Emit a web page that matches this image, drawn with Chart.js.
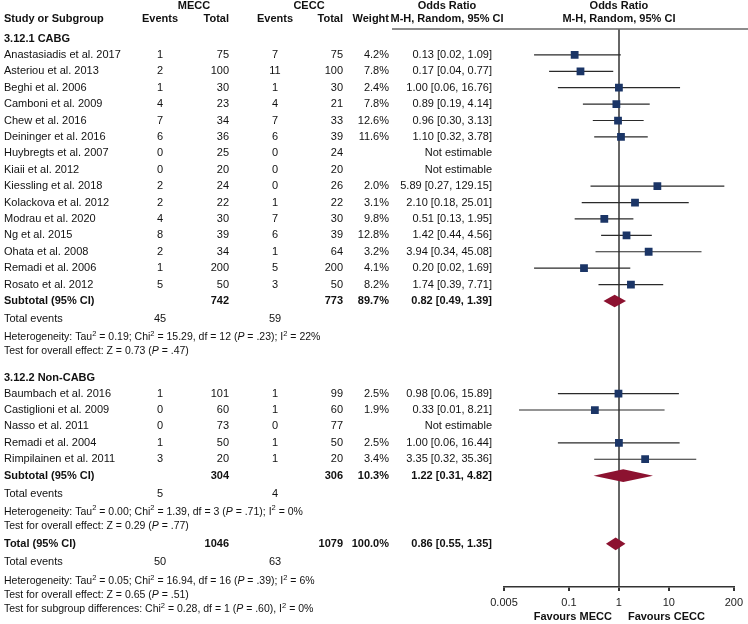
<!DOCTYPE html>
<html><head><meta charset="utf-8">
<script src="https://cdn.jsdelivr.net/npm/chart.js@4/dist/chart.umd.min.js"></script>
<style>html,body{margin:0;padding:0;background:#fff}canvas{display:block}</style>
</head><body>
<canvas id="c" width="748" height="624"></canvas>
<script>
// ---------- DATA ----------
const studies = ["Anastasiadis et al. 2017","Asteriou et al. 2013","Beghi et al. 2006","Camboni et al. 2009","Chew et al. 2016","Deininger et al. 2016","Huybregts et al. 2007","Kiaii et al. 2012","Kiessling et al. 2018","Kolackova et al. 2012","Modrau et al. 2020","Ng et al. 2015","Ohata et al. 2008","Remadi et al. 2006","Rosato et al. 2012",
  "Baumbach et al. 2016","Castiglioni et al. 2009","Nasso et al. 2011","Remadi et al. 2004","Rimpilainen et al. 2011"];
const subgroup = [0,0,0,0,0,0,0,0,0,0,0,0,0,0,0, 1,1,1,1,1];
const meccEvents = [1,2,1,4,7,6,0,0,2,2,4,8,2,1,5, 1,0,0,1,3];
const meccTotal  = [75,100,30,23,34,36,25,20,24,22,30,39,34,200,50, 101,60,73,50,20];
const ceccEvents = [7,11,1,4,7,6,0,0,0,1,7,6,1,5,3, 1,1,0,1,1];
const ceccTotal  = [75,100,30,21,33,39,24,20,26,22,30,39,64,200,50, 99,60,77,50,20];
const weights    = [4.2,7.8,2.4,7.8,12.6,11.6,null,null,2.0,3.1,9.8,12.8,3.2,4.1,8.2, 2.5,1.9,null,2.5,3.4];
const oddsRatio  = [0.13,0.17,1.00,0.89,0.96,1.10,null,null,5.89,2.10,0.51,1.42,3.94,0.20,1.74, 0.98,0.33,null,1.00,3.35];
const ciLow      = [0.02,0.04,0.06,0.19,0.30,0.32,null,null,0.27,0.18,0.13,0.44,0.34,0.02,0.39, 0.06,0.01,null,0.06,0.32];
const ciHigh     = [1.09,0.77,16.76,4.14,3.13,3.78,null,null,129.15,25.01,1.95,4.56,45.08,1.69,7.71, 15.89,8.21,null,16.44,35.36];

const groupNames   = ["3.12.1 CABG","3.12.2 Non-CABG"];
const groupMeccTot = [742,304];
const groupCeccTot = [773,306];
const groupWeight  = ["89.7%","10.3%"];
const groupOR      = [0.82,1.22];
const groupLow     = [0.49,0.31];
const groupHigh    = [1.39,4.82];
const groupMeccEv  = [45,5];
const groupCeccEv  = [59,4];
const groupNotes   = [
  ["Heterogeneity: Tau^2^ = 0.19; Chi^2^ = 15.29, df = 12 (_P_ = .23); I^2^ = 22%","Test for overall effect: Z = 0.73 (_P_ = .47)"],
  ["Heterogeneity: Tau^2^ = 0.00; Chi^2^ = 1.39, df = 3 (_P_ = .71); I^2^ = 0%","Test for overall effect: Z = 0.29 (_P_ = .77)"]
];
const totalMeccTot = 1046, totalCeccTot = 1079, totalWeight = "100.0%";
const totalOR = 0.86, totalLow = 0.55, totalHigh = 1.35;
const totalMeccEv = 50, totalCeccEv = 63;
const totalNotes = [
  "Heterogeneity: Tau^2^ = 0.05; Chi^2^ = 16.94, df = 16 (_P_ = .39); I^2^ = 6%",
  "Test for overall effect: Z = 0.65 (_P_ = .51)",
  "Test for subgroup differences: Chi^2^ = 0.28, df = 1 (_P_ = .60), I^2^ = 0%"
];
const tickValues = [0.005, 0.1, 1, 10, 200];
const tickLabels = ["0.005","0.1","1","10","200"];

// ---------- LAYOUT (row units) ----------
const rows = [];
(function(){
  let r = -0.97;
  for (let g = 0; g < 2; g++) {
    rows.push({kind:'group', row:r, g});
    r += 0.97;
    for (let i = 0; i < studies.length; i++) {
      if (subgroup[i] !== g) continue;
      rows.push({kind:'study', row:r, i});
      r += 1;
    }
    rows.push({kind:'subtotal', row:r, g}); r += 1.1;
    rows.push({kind:'events', row:r, m:groupMeccEv[g], c:groupCeccEv[g]}); r += 1.1;
    rows.push({kind:'note', row:r, text:groupNotes[g][0]}); r += 0.86;
    rows.push({kind:'note', row:r, text:groupNotes[g][1]});
    r += (g === 0) ? 1.62 : 1.1;
  }
  rows.push({kind:'total', row:r}); r += 1.1;
  rows.push({kind:'events', row:r, m:totalMeccEv, c:totalCeccEv}); r += 1.18;
  for (const t of totalNotes) { rows.push({kind:'note', row:r, text:t}); r += 0.86; }
})();
const studyRow = {};
rows.forEach(o => { if (o.kind==='study') studyRow[o.i] = o.row; });
const subRow = rows.filter(o=>o.kind==='subtotal').map(o=>o.row);
const totRow = rows.find(o=>o.kind==='total').row;

// ---------- DATASETS ----------
const squareData = [];
const ciSets = [];
studies.forEach((s,i) => {
  if (oddsRatio[i] == null) return;
  squareData.push({x: oddsRatio[i], y: studyRow[i]});
  ciSets.push({
    type:'line', data:[{x:ciLow[i], y:studyRow[i]},{x:ciHigh[i], y:studyRow[i]}],
    borderColor:'#2a2a2a', borderWidth:1.2, pointRadius:0, showLine:true, fill:false
  });
});
const diamonds = [
  {or:groupOR[0], lo:groupLow[0], hi:groupHigh[0], row:subRow[0]},
  {or:groupOR[1], lo:groupLow[1], hi:groupHigh[1], row:subRow[1]},
  {or:totalOR, lo:totalLow, hi:totalHigh, row:totRow}
];

// ---------- TEXT HELPERS ----------
const FONT = '"Liberation Sans", Arial, Helvetica, sans-serif';
const FS = 11;
function f(sz, bold, it){ return (it?'italic ':'') + (bold?'bold ':'') + sz + 'px ' + FONT; }
function txt(ctx, s, x, y, align, bold, sz){
  ctx.font = f(sz||FS, bold); ctx.textAlign = align||'left'; ctx.textBaseline = 'middle';
  ctx.fillStyle = '#111'; ctx.fillText(s, x, y);
}
function rich(ctx, s, x, y, sz){
  const parts = s.split(/(\^[^^]*\^|_[^_]*_)/).filter(p=>p.length);
  ctx.textAlign = 'left'; ctx.textBaseline = 'middle'; ctx.fillStyle = '#111';
  let cx = x;
  for (const p of parts) {
    if (p[0]==='^') { const t=p.slice(1,-1); ctx.font=f(sz*0.72,false); ctx.fillText(t,cx,y-3.5); cx+=ctx.measureText(t).width; }
    else if (p[0]==='_') { const t=p.slice(1,-1); ctx.font=f(sz,false,true); ctx.fillText(t,cx,y); cx+=ctx.measureText(t).width; }
    else { ctx.font=f(sz,false); ctx.fillText(p,cx,y); cx+=ctx.measureText(p).width; }
  }
}
const fmtOR = (o,l,h) => o.toFixed(2)+' ['+l.toFixed(2)+', '+h.toFixed(2)+']';

const COL = {name:4, mEv:160, mTot:229, cEv:275, cTot:343, wt:389, orR:492, orHead:447};

const tablePlugin = {
  id:'table',
  beforeDatasetsDraw(chart){
    const ctx = chart.ctx, ca = chart.chartArea;
    ctx.save();
    ctx.strokeStyle = '#666'; ctx.lineWidth = 1.5;
    ctx.beginPath(); ctx.moveTo(392, ca.top); ctx.lineTo(748, ca.top); ctx.stroke();
    ctx.restore();
  },
  afterDatasetsDraw(chart){
    const ctx = chart.ctx, xs = chart.scales.x, ys = chart.scales.y, ca = chart.chartArea;
    ctx.save();
    ctx.fillStyle = '#8c1230';
    for (const d of diamonds) {
      const y = ys.getPixelForValue(d.row);
      ctx.beginPath();
      ctx.moveTo(xs.getPixelForValue(d.lo), y);
      ctx.lineTo(xs.getPixelForValue(d.or), y-6.3);
      ctx.lineTo(xs.getPixelForValue(d.hi), y);
      ctx.lineTo(xs.getPixelForValue(d.or), y+6.3);
      ctx.closePath(); ctx.fill();
    }
    const h1 = ca.top - 23, h2 = ca.top - 10;
    txt(ctx,'MECC',194,h1,'center',true);
    txt(ctx,'CECC',309,h1,'center',true);
    txt(ctx,'Odds Ratio',COL.orHead,h1,'center',true);
    txt(ctx,'Odds Ratio',xs.getPixelForValue(1),h1,'center',true);
    txt(ctx,'Study or Subgroup',COL.name,h2,'left',true);
    txt(ctx,'Events',COL.mEv,h2,'center',true);
    txt(ctx,'Total',COL.mTot,h2,'right',true);
    txt(ctx,'Events',COL.cEv,h2,'center',true);
    txt(ctx,'Total',COL.cTot,h2,'right',true);
    txt(ctx,'Weight',COL.wt,h2,'right',true);
    txt(ctx,'M-H, Random, 95% CI',COL.orHead,h2,'center',true);
    txt(ctx,'M-H, Random, 95% CI',xs.getPixelForValue(1),h2,'center',true);
    for (const o of rows) {
      const y = ys.getPixelForValue(o.row);
      if (o.kind==='group') txt(ctx, groupNames[o.g], COL.name, y, 'left', true);
      else if (o.kind==='study') {
        const i = o.i;
        txt(ctx, studies[i], COL.name, y);
        txt(ctx, String(meccEvents[i]), COL.mEv, y, 'center');
        txt(ctx, String(meccTotal[i]), COL.mTot, y, 'right');
        txt(ctx, String(ceccEvents[i]), COL.cEv, y, 'center');
        txt(ctx, String(ceccTotal[i]), COL.cTot, y, 'right');
        if (weights[i] != null) txt(ctx, weights[i].toFixed(1)+'%', COL.wt, y, 'right');
        txt(ctx, oddsRatio[i]==null ? 'Not estimable' : fmtOR(oddsRatio[i],ciLow[i],ciHigh[i]), COL.orR, y, 'right');
      } else if (o.kind==='subtotal') {
        txt(ctx,'Subtotal (95% CI)',COL.name,y,'left',true);
        txt(ctx,String(groupMeccTot[o.g]),COL.mTot,y,'right',true);
        txt(ctx,String(groupCeccTot[o.g]),COL.cTot,y,'right',true);
        txt(ctx,groupWeight[o.g],COL.wt,y,'right',true);
        txt(ctx,fmtOR(groupOR[o.g],groupLow[o.g],groupHigh[o.g]),COL.orR,y,'right',true);
      } else if (o.kind==='total') {
        txt(ctx,'Total (95% CI)',COL.name,y,'left',true);
        txt(ctx,String(totalMeccTot),COL.mTot,y,'right',true);
        txt(ctx,String(totalCeccTot),COL.cTot,y,'right',true);
        txt(ctx,totalWeight,COL.wt,y,'right',true);
        txt(ctx,fmtOR(totalOR,totalLow,totalHigh),COL.orR,y,'right',true);
      } else if (o.kind==='events') {
        txt(ctx,'Total events',COL.name,y);
        txt(ctx,String(o.m),COL.mEv,y,'center');
        txt(ctx,String(o.c),COL.cEv,y,'center');
      } else if (o.kind==='note') {
        rich(ctx,o.text,COL.name,y,10.5);
      }
    }
    const fx = xs.getPixelForValue(1);
    txt(ctx,'Favours MECC',fx-7,ca.bottom+30,'right',true);
    txt(ctx,'Favours CECC',fx+9,ca.bottom+30,'left',true);
    ctx.restore();
  }
};

new Chart(document.getElementById('c'), {
  type:'scatter',
  data:{ datasets:[
    {type:'scatter', data:squareData, pointStyle:'rect', pointRadius:5.5, pointHoverRadius:5.5,
     backgroundColor:'#1b3566', borderColor:'#1b3566', borderWidth:0},
    ...ciSets
  ]},
  options:{
    responsive:false, animation:false, devicePixelRatio:1,
    layout:{padding:{left:504, right:14, top:29, bottom:0}},
    plugins:{legend:{display:false}, tooltip:{enabled:false}},
    scales:{
      x:{type:'logarithmic', min:0.005, max:200,
        afterBuildTicks: s => { s.ticks = tickValues.map(v=>({value:v})); },
        afterFit: s => { s.height = 37; },
        ticks:{autoSkip:false, maxRotation:0, padding:5, color:'#222',
          font:{family:FONT, size:11},
          callback:(v,i)=>tickLabels[i]},
        grid:{drawOnChartArea:true, drawTicks:true, tickLength:4, tickColor:'#333',
          color: c => (c.tick && c.tick.value===1) ? '#666' : 'rgba(0,0,0,0)', lineWidth:2},
        border:{display:true, color:'#333', width:1.5}
      },
      y:{type:'linear', reverse:true, display:false, min:-1.58, max:32.44}
    }
  },
  plugins:[tablePlugin]
});
</script>
</body></html>
